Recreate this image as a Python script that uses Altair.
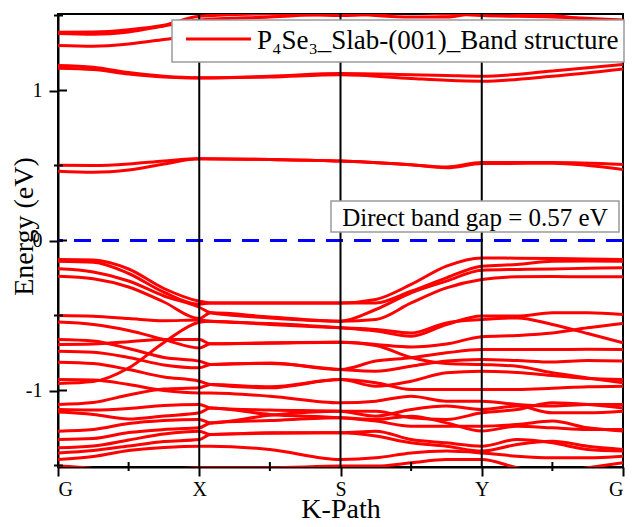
import altair as alt
import pandas as pd

FONT = "Liberation Serif"

# ---------------- data ----------------
KPOINT_LABELS = ["G", "X", "S", "Y", "G"]
KPOINT_POS = [0, 1, 2, 3, 4]
MINOR_K = [0.5, 1.5, 2.5, 3.5]
MAJOR_E = [-1, 0, 1]
MINOR_E = [-1.5, -0.5, 0.5, 1.5]
FERMI = [0.0]
SERIES_NAME = "P\u2084Se\u2083_Slab-(001)_Band structure"
GAP_TEXT = "Direct band gap = 0.57 eV"

# valence bands (k positions along the path G-X-S-Y-G)
VB_K = [0, 0.25, 0.5, 0.75, 1, 1.08, 1.5, 2, 2.25, 2.5, 2.75, 3, 3.25, 3.5, 3.75, 4]
vb01 = [-0.127, -0.13, -0.19, -0.32, -0.405, -0.416, -0.416, -0.416, -0.393, -0.293, -0.171, -0.116, -0.118, -0.12, -0.124, -0.127]
vb02 = [-0.138, -0.145, -0.22, -0.345, -0.425, -0.416, -0.416, -0.416, -0.416, -0.338, -0.249, -0.171, -0.16, -0.138, -0.136, -0.138]
vb03 = [-0.189, -0.21, -0.27, -0.37, -0.445, -0.482, -0.516, -0.538, -0.46, -0.349, -0.271, -0.198, -0.193, -0.19, -0.185, -0.182]
vb04 = [-0.238, -0.255, -0.31, -0.41, -0.52, -0.482, -0.51, -0.538, -0.527, -0.416, -0.316, -0.26, -0.242, -0.24, -0.242, -0.242]
vb05 = [-0.50, -0.505, -0.52, -0.535, -0.53, -0.538, -0.553, -0.582, -0.604, -0.638, -0.56, -0.504, -0.504, -0.482, -0.482, -0.493]
vb06 = [-0.953, -0.94, -0.85, -0.68, -0.545, -0.538, -0.56, -0.582, -0.593, -0.616, -0.549, -0.527, -0.516, -0.56, -0.62, -0.682]
vb07 = [-0.693, -0.69, -0.675, -0.66, -0.66, -0.689, -0.682, -0.678, -0.693, -0.71, -0.69, -0.642, -0.633, -0.616, -0.582, -0.553]
vb08 = [-0.544, -0.56, -0.60, -0.66, -0.716, -0.689, -0.685, -0.678, -0.70, -0.78, -0.82, -0.827, -0.838, -0.882, -0.916, -0.949]
vb09 = [-0.66, -0.67, -0.72, -0.78, -0.804, -0.827, -0.816, -0.86, -0.804, -0.782, -0.749, -0.727, -0.727, -0.727, -0.725, -0.727]
vb10 = [-0.738, -0.745, -0.78, -0.83, -0.849, -0.827, -0.82, -0.86, -0.871, -0.838, -0.804, -0.793, -0.80, -0.81, -0.80, -0.804]
vb11 = [-0.811, -0.82, -0.86, -0.91, -0.938, -0.96, -0.982, -0.927, -0.971, -0.938, -0.882, -0.871, -0.88, -0.90, -0.92, -0.927]
vb12 = [-1.093, -1.08, -1.03, -0.99, -0.982, -0.96, -0.975, -0.927, -0.949, -0.993, -0.993, -0.993, -0.993, -0.985, -0.975, -0.971]
vb13 = [-0.927, -0.93, -0.96, -1.0, -1.016, -1.016, -1.038, -1.082, -1.071, -1.038, -1.071, -1.071, -1.093, -1.104, -1.093, -1.093]
vb14 = [-1.127, -1.13, -1.12, -1.10, -1.093, -1.116, -1.13, -1.138, -1.171, -1.127, -1.104, -1.127, -1.104, -1.149, -1.149, -1.138]
vb15 = [-1.144, -1.16, -1.19, -1.17, -1.149, -1.116, -1.16, -1.182, -1.204, -1.238, -1.238, -1.238, -1.227, -1.204, -1.249, -1.27]
vb16 = [-1.271, -1.26, -1.22, -1.20, -1.193, -1.216, -1.165, -1.138, -1.138, -1.182, -1.193, -1.149, -1.127, -1.082, -1.093, -1.116]
vb17 = [-1.327, -1.32, -1.28, -1.26, -1.249, -1.216, -1.20, -1.182, -1.193, -1.171, -1.216, -1.27, -1.238, -1.249, -1.26, -1.26]
vb18 = [-1.382, -1.37, -1.33, -1.29, -1.271, -1.293, -1.282, -1.282, -1.271, -1.327, -1.349, -1.371, -1.327, -1.349, -1.393, -1.404]
vb19 = [-1.416, -1.40, -1.37, -1.34, -1.327, -1.293, -1.285, -1.282, -1.304, -1.349, -1.371, -1.404, -1.36, -1.338, -1.371, -1.393]
vb20 = [-1.46, -1.44, -1.40, -1.38, -1.371, -1.371, -1.393, -1.46, -1.449, -1.416, -1.404, -1.416, -1.438, -1.449, -1.449, -1.438]
vb21 = [-1.504, -1.52, -1.55, -1.53, -1.515, -1.515, -1.515, -1.504, -1.504, -1.482, -1.46, -1.46, -1.515, -1.55, -1.515, -1.482]
VALENCE = [vb01, vb02, vb03, vb04, vb05, vb06, vb07, vb08, vb09, vb10, vb11,
           vb12, vb13, vb14, vb15, vb16, vb17, vb18, vb19, vb20, vb21]

# conduction bands
CB_K = [0, 0.25, 0.5, 0.75, 1, 1.5, 2, 2.5, 2.75, 3, 3.5, 4]
cb01 = [0.462, 0.455, 0.47, 0.51, 0.545, 0.54, 0.53, 0.505, 0.485, 0.513, 0.515, 0.473]
cb02 = [0.502, 0.50, 0.51, 0.53, 0.545, 0.54, 0.53, 0.505, 0.49, 0.52, 0.52, 0.507]
cb03 = [1.167, 1.155, 1.12, 1.095, 1.085, 1.095, 1.113, 1.105, 1.10, 1.095, 1.13, 1.173]
cb04 = [1.149, 1.14, 1.11, 1.09, 1.083, 1.09, 1.105, 1.08, 1.068, 1.062, 1.095, 1.144]
cb05 = [1.38, 1.375, 1.39, 1.43, 1.47, 1.49, 1.51, 1.49, 1.49, 1.52, 1.50, 1.44]
cb06 = [1.389, 1.39, 1.405, 1.435, 1.495, 1.51, 1.50, 1.52, 1.51, 1.50, 1.49, 1.47]
cb07 = [1.30, 1.295, 1.31, 1.34, 1.37, 1.40, 1.42, 1.41, 1.40, 1.40, 1.39, 1.35]
CONDUCTION = [cb01, cb02, cb03, cb04, cb05, cb06, cb07]

# ---------------- table for the library ----------------
rows = []
for i, band in enumerate(VALENCE):
    for k, e in zip(VB_K, band):
        rows.append({"band": f"v{i + 1}", "k": k, "E": e, "series": SERIES_NAME})
for i, band in enumerate(CONDUCTION):
    for k, e in zip(CB_K, band):
        rows.append({"band": f"c{i + 1}", "k": k, "E": e, "series": SERIES_NAME})
df = pd.DataFrame(rows)

W, H = 565, 453
xs = alt.Scale(domain=[0, 4], nice=False, zero=False)
ys = alt.Scale(domain=[-1.51, 1.51], nice=False, zero=False)

x_label_expr = "[" + ",".join(f"'{s}'" for s in KPOINT_LABELS) + "][datum.value]"

bands = alt.Chart(df).mark_line(interpolate="monotone", strokeWidth=3, clip=True).encode(
    x=alt.X("k:Q", scale=xs, axis=alt.Axis(
        values=KPOINT_POS, labelExpr=x_label_expr, title="K-Path",
        labelPadding=3, titleY=50, titleBaseline="alphabetic")),
    y=alt.Y("E:Q", scale=ys, axis=alt.Axis(
        values=MAJOR_E,
        labelExpr="datum.value < 0 ? '-' + abs(datum.value) : '' + datum.value",
        title="Energy (eV)", labelPadding=7, titleX=-26, titleY=212,
        titleBaseline="alphabetic")),
    color=alt.Color("series:N", scale=alt.Scale(range=["#ff0000"]), legend=None),
    detail="band:N",
)

kvlines = alt.Chart(pd.DataFrame({"k": KPOINT_POS[1:-1]})).mark_rule(
    color="black", strokeWidth=2).encode(x=alt.X("k:Q", scale=xs))

fermi = alt.Chart(pd.DataFrame({"E": FERMI})).mark_rule(
    color="#0000ff", strokeWidth=3, strokeDash=[17, 11]).encode(y=alt.Y("E:Q", scale=ys))

minor_y = alt.Chart(pd.DataFrame({"E": MINOR_E})).mark_rule(
    color="black", strokeWidth=2).encode(y=alt.Y("E:Q", scale=ys), x=alt.value(-4), x2=alt.value(5))
inner_y = alt.Chart(pd.DataFrame({"E": MAJOR_E})).mark_rule(
    color="black", strokeWidth=2).encode(y=alt.Y("E:Q", scale=ys), x=alt.value(0), x2=alt.value(9))
minor_x = alt.Chart(pd.DataFrame({"k": MINOR_K})).mark_rule(
    color="black", strokeWidth=2).encode(x=alt.X("k:Q", scale=xs), y=alt.value(H - 5), y2=alt.value(H + 4))

gap_df = pd.DataFrame({"label": [GAP_TEXT]})
gap_box = alt.Chart(gap_df).mark_rect(fill="white", stroke="#9a9a9a", strokeWidth=1.5).encode(
    x=alt.value(273), x2=alt.value(561), y=alt.value(187), y2=alt.value(218))
gap_text = alt.Chart(gap_df).mark_text(
    font=FONT, fontSize=25, align="center", baseline="alphabetic", color="black").encode(
    x=alt.value(417), y=alt.value(212), text="label:N")

leg_df = pd.DataFrame({"label": [SERIES_NAME]})
leg_box = alt.Chart(leg_df).mark_rect(fill="white", stroke="#9a9a9a", strokeWidth=1.5).encode(
    x=alt.value(114), x2=alt.value(566), y=alt.value(6), y2=alt.value(48))
leg_line = alt.Chart(leg_df).mark_rule(color="#ff0000", strokeWidth=3).encode(
    x=alt.value(128), x2=alt.value(193), y=alt.value(25))
leg_text = alt.Chart(leg_df).mark_text(
    font=FONT, fontSize=27, align="left", baseline="alphabetic", color="black").encode(
    x=alt.value(199), y=alt.value(35), text="label:N")

chart = alt.layer(
    bands, fermi, kvlines, minor_y, inner_y, minor_x,
    gap_box, gap_text, leg_box, leg_line, leg_text,
).properties(
    width=W, height=H,
    autosize=alt.AutoSizeParams(type="none"),
    padding={"left": 50, "top": 6, "right": 3, "bottom": 52},
).configure_view(
    stroke="black", strokeWidth=2,
).configure_axis(
    domainColor="black", domainWidth=2, tickColor="black", tickWidth=2, tickSize=9,
    labelFont=FONT, labelFontSize=20, labelColor="black",
    titleFont=FONT, titleFontSize=28, titleFontWeight="normal", titleColor="black",
    grid=False,
)

chart.save("out.html", embed_options={"renderer": "svg", "actions": False})
